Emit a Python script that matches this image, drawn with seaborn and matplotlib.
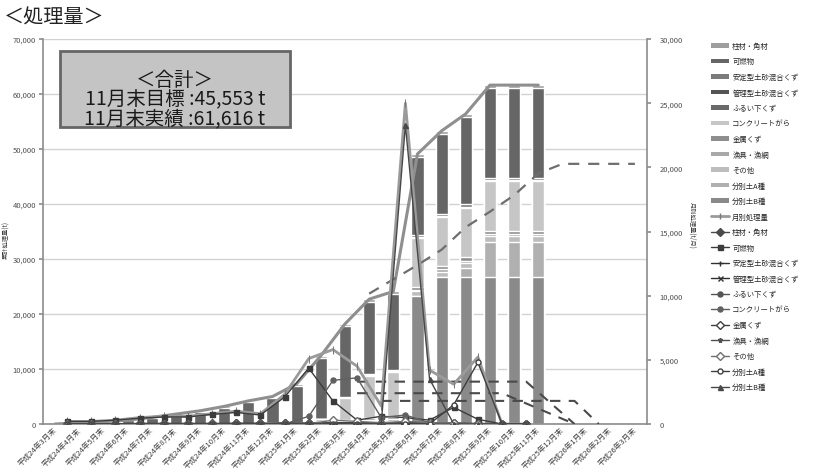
import numpy as np
import pandas as pd
import matplotlib
matplotlib.use("Agg")
import matplotlib.pyplot as plt
from matplotlib.patches import Patch, Rectangle
from matplotlib.lines import Line2D
from matplotlib.ticker import FuncFormatter, MultipleLocator
import seaborn as sns

# ---------------------------------------------------------------- data
months = [
    "平成24年3月末", "平成24年4月末", "平成24年5月末", "平成24年6月末",
    "平成24年7月末", "平成24年8月末", "平成24年9月末", "平成24年10月末",
    "平成24年11月末", "平成24年12月末", "平成25年1月末", "平成25年2月末",
    "平成25年3月末", "平成25年4月末", "平成25年5月末", "平成25年6月末",
    "平成25年7月末", "平成25年8月末", "平成25年9月末", "平成25年10月末",
    "平成25年11月末", "平成25年12月末", "平成26年1月末", "平成26年2月末",
    "平成26年3月末",
]

categories = [
    "柱材・角材", "可燃物", "安定型土砂混合くず", "管理型土砂混合くず",
    "ふるい下くず", "コンクリートがら", "金属くず", "漁具・漁網",
    "その他", "分別土A種", "分別土B種",
]

# cumulative tonnage (t), 平成24年3月末 .. 平成25年11月末
cum_hashira   = [0, 0, 0, 0, 50, 100, 150, 200, 250, 300, 350, 400, 450, 500, 500, 500, 500, 550, 600, 600, 600]
cum_kanen     = [0, 200, 400, 700, 1150, 1700, 2250, 3000, 3900, 4600, 6700, 11050, 12850, 13150, 13750, 14250, 14550, 15850, 16216, 16216, 16216]
cum_antei     = [0, 0, 0, 0, 0, 0, 0, 0, 0, 0, 0, 0, 100, 200, 300, 400, 500, 500, 500, 500, 500]
cum_kanri     = [0, 0, 0, 0, 0, 0, 0, 0, 0, 0, 0, 0, 0, 100, 100, 200, 200, 200, 200, 200, 200]
cum_furui     = [0, 0, 0, 0, 0, 0, 0, 0, 0, 0, 0, 0, 0, 0, 0, 0, 0, 0, 0, 0, 0]
cum_concrete  = [0, 0, 0, 0, 0, 0, 0, 0, 0, 0, 0, 600, 4000, 7600, 8100, 8800, 8900, 9000, 9000, 9000, 9000]
cum_kinzoku   = [0, 0, 0, 0, 0, 0, 0, 0, 50, 100, 150, 200, 300, 400, 450, 500, 550, 600, 600, 600, 600]
cum_gyogu     = [0, 0, 0, 0, 0, 0, 0, 0, 0, 0, 100, 150, 200, 250, 300, 350, 400, 400, 400, 400, 400]
cum_sonota    = [0, 0, 0, 0, 0, 0, 0, 0, 0, 0, 0, 0, 300, 500, 600, 800, 900, 1000, 1000, 1000, 1000]
cum_bunbetu_a = [0, 0, 0, 0, 0, 0, 0, 0, 0, 0, 0, 0, 0, 0, 0, 0, 0, 1500, 6300, 6300, 6300]
cum_bunbetu_b = [0, 0, 0, 0, 0, 0, 0, 0, 0, 0, 0, 0, 0, 0, 0, 23300, 26800, 26800, 26800, 26800, 26800]

# monthly tonnage (t/月), 平成24年3月 .. 平成25年10月
mon_total     = [200, 200, 300, 500, 600, 600, 800, 1000, 800, 2300, 5100, 5800, 4500, 1400, 25000, 4200, 3100, 5216, 0, 0]
mon_hashira   = [0, 0, 0, 50, 50, 50, 50, 50, 50, 50, 50, 50, 50, 0, 0, 0, 50, 50, 0, 0]
mon_kanen     = [200, 200, 300, 450, 550, 550, 750, 900, 700, 2100, 4350, 1800, 300, 600, 500, 300, 1300, 366, 0, 0]
mon_antei     = [0, 0, 0, 0, 0, 0, 0, 0, 0, 0, 0, 100, 100, 100, 100, 100, 0, 0, 0, 0]
mon_kanri     = [0, 0, 0, 0, 0, 0, 0, 0, 0, 0, 0, 0, 100, 0, 100, 0, 0, 0, 0, 0]
mon_furui     = [0, 0, 0, 0, 0, 0, 0, 0, 0, 0, 0, 0, 0, 0, 0, 0, 0, 0, 0, 0]
mon_concrete  = [0, 0, 0, 0, 0, 0, 0, 0, 0, 0, 600, 3400, 3600, 500, 700, 100, 100, 0, 0, 0]
mon_kinzoku   = [0, 0, 0, 0, 0, 0, 0, 50, 50, 50, 50, 100, 100, 50, 50, 50, 50, 0, 0, 0]
mon_gyogu     = [0, 0, 0, 0, 0, 0, 0, 0, 0, 100, 50, 50, 50, 50, 50, 50, 0, 0, 0, 0]
mon_sonota    = [0, 0, 0, 0, 0, 0, 0, 0, 0, 0, 0, 300, 200, 100, 200, 100, 100, 0, 0, 0]
mon_bunbetu_a = [0, 0, 0, 0, 0, 0, 0, 0, 0, 0, 0, 0, 0, 0, 0, 0, 1500, 4800, 0, 0]
mon_bunbetu_b = [0, 0, 0, 0, 0, 0, 0, 0, 0, 0, 0, 0, 0, 0, 23300, 3500, 0, 0, 0, 0]

# cumulative plan (t), from 平成25年4月末
plan_cum_idx = [13, 14, 15, 16, 17, 18, 19, 20, 21, 22, 23, 24]
plan_cum_val = [23700, 26300, 28900, 31700, 35800, 38600, 41600, 45553, 47300, 47300, 47300, 47300]

# monthly plans (t/月): month index and value at the break points
plan_mon_a_idx = [12, 19, 21]
plan_mon_a_val = [3300, 3300, 0]
plan_mon_b_idx = [12, 18, 21]
plan_mon_b_val = [2400, 2400, 0]
plan_mon_c_idx = [13, 21, 22]
plan_mon_c_val = [1800, 1800, 0]

target_nov = 45553
actual_nov = 61616

# ---------------------------------------------------------------- styles
bar_colors = ["#9e9e9e", "#666666", "#7c7c7c", "#555555", "#6a6a6a", "#c6c6c6",
              "#8e8e8e", "#a8a8a8", "#bdbdbd", "#b0b0b0", "#8a8a8a"]
line_styles = [
    ("#4a4a4a", "D", "#4a4a4a"), ("#3c3c3c", "s", "#3c3c3c"), ("#303030", "+", "#303030"),
    ("#303030", "x", "#303030"), ("#555555", "o", "#555555"), ("#606060", "o", "#606060"),
    ("#404040", "D", "white"), ("#505050", "*", "#505050"), ("#707070", "D", "white"),
    ("#404040", "o", "white"), ("#484848", "^", "#484848"),
]

cum_series = [cum_hashira, cum_kanen, cum_antei, cum_kanri, cum_furui, cum_concrete,
              cum_kinzoku, cum_gyogu, cum_sonota, cum_bunbetu_a, cum_bunbetu_b]
mon_series = [mon_hashira, mon_kanen, mon_antei, mon_kanri, mon_furui, mon_concrete,
              mon_kinzoku, mon_gyogu, mon_sonota, mon_bunbetu_a, mon_bunbetu_b]

sns.set_theme(style="white")
plt.rcParams["font.family"] = ["Noto Sans CJK JP", "DejaVu Sans"]
plt.rcParams["axes.unicode_minus"] = False

W, H = 814, 477
fig = plt.figure(figsize=(W / 100, H / 100), dpi=100)
L, R, T, B = 43, 647, 40, 425
ax = fig.add_axes([L / W, 1 - B / H, (R - L) / W, (B - T) / H])

# ---------------------------------------------------------------- stacked bars
n = len(months)
data = np.full((len(categories), n), np.nan)
for k, s in enumerate(cum_series):
    data[k, :len(s)] = s
stack_order = list(reversed(range(len(categories))))      # 分別土B種 at the bottom
tops = np.cumsum(data[stack_order], axis=0)
for level in reversed(range(len(stack_order))):
    cat = stack_order[level]
    sns.barplot(x=months, y=tops[level], order=months, color=bar_colors[cat],
                width=0.5, saturation=1, errorbar=None, ax=ax, zorder=2)

total = np.nansum(data, axis=0)[:len(cum_hashira)]
x_bar = np.arange(len(total))
sns.lineplot(x=x_bar, y=total, ax=ax, color="#8f8f8f", lw=2.2, zorder=4)
sns.lineplot(x=plan_cum_idx, y=plan_cum_val, ax=ax, color="#6e6e6e", lw=1.6,
             linestyle=(0, (5, 4)), zorder=4)

ax.set_xlim(-0.5, n - 0.5)
ax.set_ylim(0, 70000)
ax.yaxis.set_major_locator(MultipleLocator(10000))
ax.yaxis.set_major_formatter(FuncFormatter(lambda v, p: f"{int(v):,}"))
ax.yaxis.grid(True, color="#d2d2d2", lw=1)
ax.set_axisbelow(True)
ax.set_xlabel("")
ax.set_ylabel("")
ax.tick_params(axis="y", labelsize=5.5, labelcolor="#505050", length=3, color="#909090",
               direction="out", left=True, pad=2)
ax.tick_params(axis="x", length=0, pad=3)
ax.set_xticks(range(n))
ax.set_xticklabels(months, rotation=45, ha="right", va="center", rotation_mode="anchor",
                   fontsize=5.5, color="#404040")
for side in ["left", "bottom"]:
    ax.spines[side].set_color("#8c8c8c")
    ax.spines[side].set_linewidth(1.2)
ax.spines["top"].set_visible(False)
ax.spines["right"].set_visible(False)

# ---------------------------------------------------------------- monthly lines
ax2 = ax.twinx()
x_mon = np.arange(len(mon_total)) + 0.5
for idx, val in [(plan_mon_a_idx, plan_mon_a_val), (plan_mon_b_idx, plan_mon_b_val),
                 (plan_mon_c_idx, plan_mon_c_val)]:
    sns.lineplot(x=np.array(idx) + 0.5, y=val, ax=ax2, color="#4a4a4a", lw=1.5,
                 linestyle=(0, (5, 4)), zorder=3)
sns.lineplot(x=x_mon, y=mon_total, ax=ax2, color="#9a9a9a", lw=2.0, marker="|",
             markersize=6, markeredgecolor="#7a7a7a", zorder=5)
for k, s in enumerate(mon_series):
    c, m, fc = line_styles[k]
    sns.lineplot(x=x_mon, y=s, ax=ax2, color=c, lw=1.0, marker=m, markersize=3.6,
                 markerfacecolor=fc, markeredgecolor=c, markeredgewidth=1.0, zorder=6)
ax2.set_ylim(0, 30000)
ax2.set_xlim(-0.5, n - 0.5)
ax2.yaxis.set_major_locator(MultipleLocator(5000))
ax2.yaxis.set_major_formatter(FuncFormatter(lambda v, p: f"{int(v):,}"))
ax2.tick_params(axis="y", labelsize=5.5, labelcolor="#505050", length=3, color="#909090",
                direction="out", right=True, pad=6)
ax2.set_ylabel("")
ax2.grid(False)
for side in ["left", "top", "bottom"]:
    ax2.spines[side].set_visible(False)
ax2.spines["right"].set_color("#8c8c8c")
ax2.spines["right"].set_linewidth(1.2)

# ---------------------------------------------------------------- legend
handles = [Patch(facecolor=bar_colors[k], edgecolor="none") for k in range(len(categories))]
labels = list(categories)
handles.append(Line2D([], [], color="#9a9a9a", lw=2.0, marker="|", markersize=5,
                      markeredgecolor="#7a7a7a"))
labels.append("月別処理量")
for k in range(len(categories)):
    c, m, fc = line_styles[k]
    handles.append(Line2D([], [], color=c, lw=1.0, marker=m, markersize=3.6,
                          markerfacecolor=fc, markeredgecolor=c))
    labels.append(categories[k])
fig.legend(handles, labels, loc="upper left", bbox_to_anchor=(708 / W, 1 - 40 / H),
           frameon=False, fontsize=5.3, handlelength=2.4, handleheight=0.6,
           labelspacing=1.02, handletextpad=0.5, borderaxespad=0)

# ---------------------------------------------------------------- texts
fig.text(4 / W, 1 - 18 / H, "＜処理量＞", fontsize=14.5, ha="left", va="center", color="#222222")
fig.text(6 / W, 1 - 240 / H, "累計処理量(t)", fontsize=4.5, rotation=90, ha="center",
         va="center", color="#404040")
fig.text(692 / W, 1 - 225 / H, "月別処理量(t/月)", fontsize=4.5, rotation=-90, ha="center",
         va="center", color="#404040")

bx0, by0, bx1, by1 = 60, 52, 290, 128
fig.patches.append(Rectangle((bx0 / W, 1 - by1 / H), (bx1 - bx0) / W, (by1 - by0) / H,
                             transform=fig.transFigure, facecolor="#c4c4c4",
                             edgecolor="#666666", lw=2, zorder=10))
cx = (bx0 + bx1) / 2 / W
fig.text(cx, 1 - 80 / H, "＜合計＞", fontsize=14, ha="center", va="center", zorder=11,
         color="#1a1a1a")
fig.text(cx, 1 - 100 / H, f"11月末目標 :{target_nov:,} t", fontsize=14, ha="center",
         va="center", zorder=11, color="#1a1a1a")
fig.text(cx, 1 - 119 / H, f"11月末実績 :{actual_nov:,} t", fontsize=14, ha="center",
         va="center", zorder=11, color="#1a1a1a")

fig.savefig("out.png", dpi=100)
